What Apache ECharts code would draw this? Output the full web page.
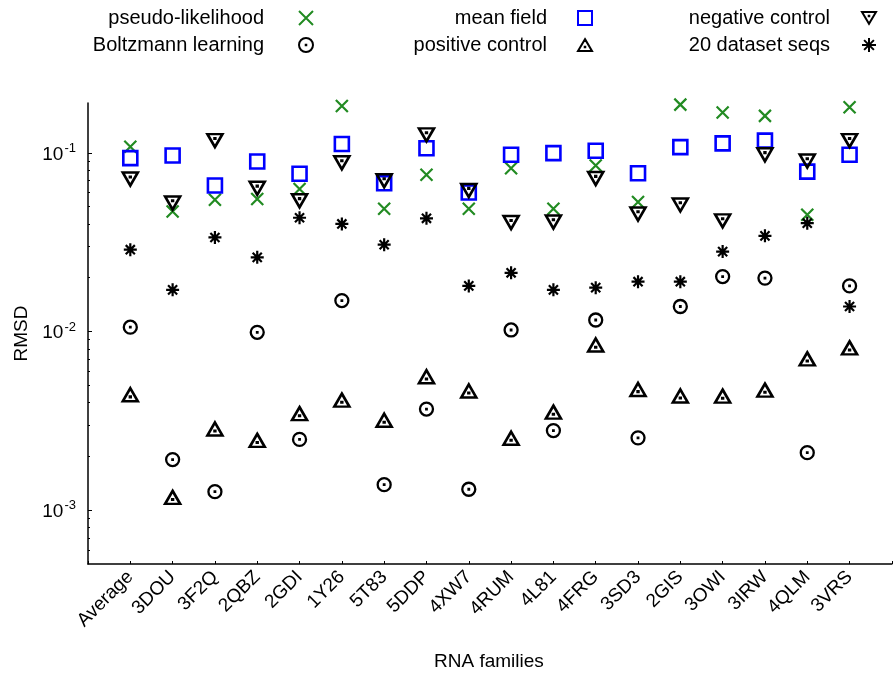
<!DOCTYPE html>
<html>
<head>
<meta charset="utf-8">
<script src="https://cdn.jsdelivr.net/npm/echarts@6/dist/echarts.min.js"></script>
<style>html,body{margin:0;padding:0;background:#fff}#c{width:894px;height:676px}</style>
</head>
<body>
<div id="c"></div>
<script>
const categories = ['Average','3DOU','3F2Q','2QBZ','2GDI','1Y26','5T83','5DDP','4XW7','4RUM','4L81','4FRG','3SD3','2GIS','3OWI','3IRW','4QLM','3VRS'];
const pseudoLikelihood = [0.108,0.047,0.0546,0.0552,0.0628,0.183,0.0486,0.0753,0.0486,0.082,0.0486,0.085,0.0531,0.186,0.168,0.161,0.045,0.180];
const boltzmann = [0.01057,0.00192,0.00127,0.0099,0.00249,0.0149,0.00139,0.00368,0.00131,0.0102,0.00279,0.0116,0.00254,0.0138,0.0203,0.0199,0.0021,0.018];
const meanField = [0.0934,0.0966,0.0656,0.0894,0.0763,0.112,0.0676,0.106,0.060,0.0975,0.0996,0.1026,0.0769,0.1076,0.113,0.117,0.0785,0.0975];
const positiveControl = [0.00443,0.00118,0.00285,0.00246,0.00347,0.00413,0.00319,0.00558,0.00465,0.00253,0.00354,0.0084,0.00474,0.00436,0.00435,0.0047,0.00703,0.0081];
const negativeControl = [0.0713,0.0524,0.117,0.0633,0.0539,0.0879,0.0697,0.126,0.0615,0.0407,0.041,0.0718,0.0455,0.0511,0.0416,0.0975,0.090,0.117];
const datasetSeqs = [0.0287,0.0171,0.0336,0.026,0.0433,0.040,0.0306,0.043,0.018,0.0213,0.0171,0.0176,0.019,0.019,0.028,0.0343,0.0404,0.0138];
const yMajorTicks = [0.001, 0.01, 0.1];
const yMinorTicks = [0.0006,0.0007,0.0008,0.0009,0.002,0.003,0.004,0.005,0.006,0.007,0.008,0.009,0.02,0.03,0.04,0.05,0.06,0.07,0.08,0.09];

const FONT = '"Liberation Sans", Arial, Helvetica, sans-serif';
const axisCats = [''].concat(categories, ['']);
function pts(arr){ return arr.map((v,i)=>[categories[i], v]); }

const SYM = {
  cross: 'path://M0,0L10,10M10,0L0,10',
  square: 'path://M0,0L10,0L10,10L0,10Z',
  circle: 'path://M10,5A5,5,0,1,1,0,5A5,5,0,1,1,10,5ZM4.8,4.8L5.2,4.8L5.2,5.2L4.8,5.2Z',
  triDown: 'path://M0,0L10,0L5,8.4ZM4.8,2.6L5.2,2.6L5.2,3.0L4.8,3.0Z',
  triUp: 'path://M5,0L10,8.4L0,8.4ZM4.8,5.4L5.2,5.4L5.2,5.8L4.8,5.8Z',
  star: 'path://M5,0L5,10M0,5L10,5M1.5,1.5L8.5,8.5M8.5,1.5L1.5,8.5'
};

function ser(name, arr, sym, size, color, bw){
  return {
    name: name, type: 'scatter', data: pts(arr), symbol: sym, symbolSize: size,
    itemStyle: {color: 'rgba(0,0,0,0)', borderColor: color, borderWidth: bw, opacity: 1},
    emphasis: {disabled: true}, z: 3
  };
}

const series = [
  ser('pseudo-likelihood', pseudoLikelihood, SYM.cross, [12,12], '#228B22', 2.2),
  ser('Boltzmann learning', boltzmann, SYM.circle, [13,13], '#000', 2.3),
  ser('mean field', meanField, SYM.square, [14,14], '#0000FF', 2.6),
  ser('positive control', positiveControl, SYM.triUp, [15,13], '#000', 2.6),
  ser('negative control', negativeControl, SYM.triDown, [15,13], '#000', 2.6),
  ser('20 dataset seqs', datasetSeqs, SYM.star, [13,13], '#000', 2.2)
];

function leg(name, iconCenterX, rowCenterY, gap){
  return {
    data: [name], align: 'right', orient: 'horizontal', padding: 0,
    right: 894 - (iconCenterX + 7), top: rowCenterY - 12,
    itemWidth: 14, itemHeight: 14, selectedMode: false,
    textStyle: {fontFamily: FONT, fontSize: 20, color: '#000', padding: [0, gap, 0, 0]}
  };
}

const chart = echarts.init(document.getElementById('c'), null, {renderer: 'canvas'});
chart.setOption({
  animation: false,
  backgroundColor: '#fff',
  legend: [
    leg('pseudo-likelihood', 307, 20, 30),
    leg('Boltzmann learning', 307, 47, 30),
    leg('mean field', 586, 20, 26),
    leg('positive control', 586, 47, 26),
    leg('negative control', 870, 20, 27),
    leg('20 dataset seqs', 870, 47, 27)
  ],
  grid: {left: 88, top: 103, bottom: 112, right: -37.5, containLabel: false},
  xAxis: {
    type: 'category', data: axisCats, boundaryGap: false,
    axisLine: {show: true, onZero: false, lineStyle: {color: '#000', width: 1.5}},
    axisTick: {show: true, inside: true, length: 3, interval: 0, lineStyle: {color: '#000', width: 1}},
    axisLabel: {interval: 0, rotate: 45, margin: 10, fontFamily: FONT, fontSize: 19, color: '#000'},
    splitLine: {show: false}
  },
  yAxis: [{
    type: 'log', logBase: 10, min: 0.0005, max: 0.19,
    name: 'RMSD', nameLocation: 'middle', nameGap: 54, nameRotate: 90,
    nameTextStyle: {fontFamily: FONT, fontSize: 19, color: '#000'},
    axisLine: {show: true, lineStyle: {color: '#000', width: 1.5}},
    axisTick: {show: true, inside: true, length: 4, customValues: yMajorTicks, lineStyle: {color: '#000', width: 1}},
    axisLabel: {
      customValues: yMajorTicks, margin: 12, color: '#000',
      formatter: function(v){ return '{a|10}{b|' + Math.round(Math.log10(v)) + '}'; },
      rich: {
        a: {fontFamily: FONT, fontSize: 19, color: '#000', verticalAlign: 'bottom'},
        b: {fontFamily: FONT, fontSize: 13, color: '#000', padding: [0, 0, 9, 1], verticalAlign: 'bottom'}
      }
    },
    splitLine: {show: false}
  }, {
    type: 'log', logBase: 10, min: 0.0005, max: 0.19, position: 'left', offset: 0,
    axisLine: {show: false},
    axisTick: {show: true, inside: true, length: 2, customValues: yMinorTicks, lineStyle: {color: '#000', width: 1}},
    axisLabel: {show: false},
    splitLine: {show: false}
  }],
  graphic: [{
    type: 'text', left: 490 - 56, top: 652,
    style: {text: 'RNA families', fontFamily: FONT, fontSize: 19, fill: '#000'}
  }],
  series: series
});
</script>
</body>
</html>
